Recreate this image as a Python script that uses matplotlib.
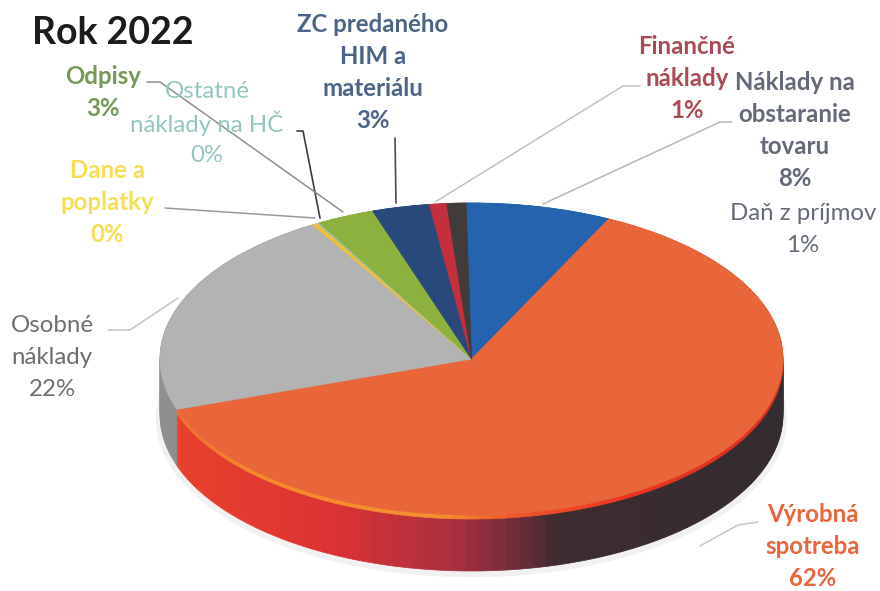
import numpy as np
import matplotlib
matplotlib.use('Agg')
import matplotlib.pyplot as plt

plt.rcParams['font.family'] = ['Lato', 'DejaVu Sans']

# order = clockwise from the top of the pie
names = ['Náklady na\nobstaranie\ntovaru', 'Výrobná\nspotreba', 'Osobné\nnáklady',
         'Dane a\npoplatky', 'Ostatné\nnáklady na HČ', 'Odpisy',
         'ZC predaného\nHIM a\nmateriálu', 'Finančné\nnáklady', 'Daň z príjmov']
values = [7.6, 63.0, 21.9, 0.3, 0.1, 3.0, 3.0, 0.9, 1.0]
percent_labels = ['8%', '62%', '22%', '0%', '0%', '3%', '3%', '1%', '1%']
colors = ['#2563ae', '#e8663a', '#b3b3b3', '#efbe3c', '#8fc4bd', '#8db13f',
          '#29497a', '#c42f3e', '#413b39']
text_colors = ['#646a78', '#e9653d', '#6e6e6e', '#f6df55', '#93c6bf', '#769858',
               '#4b6488', '#a94a56', '#646a78']
font_weights = ['bold', 'bold', 'normal', 'bold', 'normal', 'bold', 'bold', 'bold', 'normal']

# label anchor (centre of first line) and line spacing, in pixels
label_pos = [(795, 82), (813, 514), (52, 325), (107, 170), (207, 91), (103, 76),
             (373, 24), (687, 46), (803, 213)]
line_step = 32.2

# leader lines in pixels
leaders = [
    ([732, 720, 543], [122, 122, 204], '#b5bab5', 1.1),
    ([758, 738, 700], [522, 525, 546], '#c4c8c8', 1.1),
    ([108, 130, 178], [330, 330, 298], '#c4c4c4', 1.1),
    ([165, 315], [208, 218], '#9a9a9a', 1.1),
    ([297, 303, 320], [131, 131, 218], '#3c3c3c', 1.2),
    ([147, 160, 343], [82, 82, 212], '#8f8f8f', 1.1),
    ([395, 396], [138, 203], '#4a4a4a', 1.2),
    ([640, 623, 435], [86, 86, 202], '#c0c4c0', 1.1),
]

# ellipse of the top face, in pixels
W, H = 880, 591
cx, cy, rx, ry = 471.5, 359, 311.5, 156
depth = 56
start = 91


def mix_stops(x, stops):
    xs = [s[0] for s in stops]
    rgb = np.array([matplotlib.colors.to_rgb(s[1]) for s in stops])
    return tuple(np.interp(x, xs, rgb[:, i]) for i in range(3))


def draw_pie(ax, vals, cols, offset=0, radius=1.0):
    wedges, _ = ax.pie(vals, colors=cols, startangle=start, counterclock=False,
                       radius=radius, center=(0, -offset / ry))
    for w in wedges:
        w.set_edgecolor(w.get_facecolor())
        w.set_linewidth(0.5)


side_stops = [(-1, '#e8442c'), (-0.45, '#dd3233'), (-0.05, '#a83040'), (0.16, '#6a2c38'), (0.27, '#3e2c30'), (1, '#332c30')]
rim_stops = [(-1, '#ee6a30'), (-0.7, '#f58a2a'), (-0.1, '#f59030'), (0.12, '#ee5a2a'), (0.5, '#ee3420'), (1, '#d83020')]

fig = plt.figure(figsize=(W / 100, H / 100), dpi=100)
ax = fig.add_axes([0, 0, 1, 1])

# split the big slice so the side wall can shade along the angle
n_split = 90
big = values[1]
side_values = [values[0]] + [big / n_split] * n_split + values[2:]
total = sum(values)
theta = np.radians(90 - start + 360 * (values[0] + (np.arange(n_split) + 0.5) * big / n_split) / total)
xpos = np.sin(theta)

# soft shadow
draw_pie(ax, values, ['#f1f1f1'] * len(values), offset=depth + 4, radius=1.012)

side_gray = '#8d8f90'
for off in np.arange(depth, -1, -2):
    stops = rim_stops if off <= 4 else side_stops
    side_cols = [colors[0]] + [mix_stops(x, stops) for x in xpos] + [side_gray] + colors[3:]
    draw_pie(ax, side_values, side_cols, offset=off)

# top face
draw_pie(ax, values, colors)

ax.set_aspect('auto')
ax.set_xlim(-cx / rx, (W - cx) / rx)
ax.set_ylim((cy - H) / ry, cy / ry)
ax.axis('off')

# overlay in pixel coordinates for the labels
over = fig.add_axes([0, 0, 1, 1])
over.set_xlim(0, W)
over.set_ylim(H, 0)
over.axis('off')
over.patch.set_alpha(0)

for xs, ys, c, lw in leaders:
    over.plot(xs, ys, color=c, linewidth=lw, solid_capstyle='round')

for name, pct, col, weight, (x, y) in zip(names, percent_labels, text_colors, font_weights, label_pos):
    for i, line in enumerate(name.split('\n') + [pct]):
        over.text(x, y + i * line_step, line, color=col, fontsize=17.3, fontweight=weight,
                  ha='center', va='center')

over.text(113, 33, 'Rok 2022', color='#1c1c1c', fontsize=27, fontweight='bold', ha='center', va='center')

fig.savefig('out.png', dpi=100)
